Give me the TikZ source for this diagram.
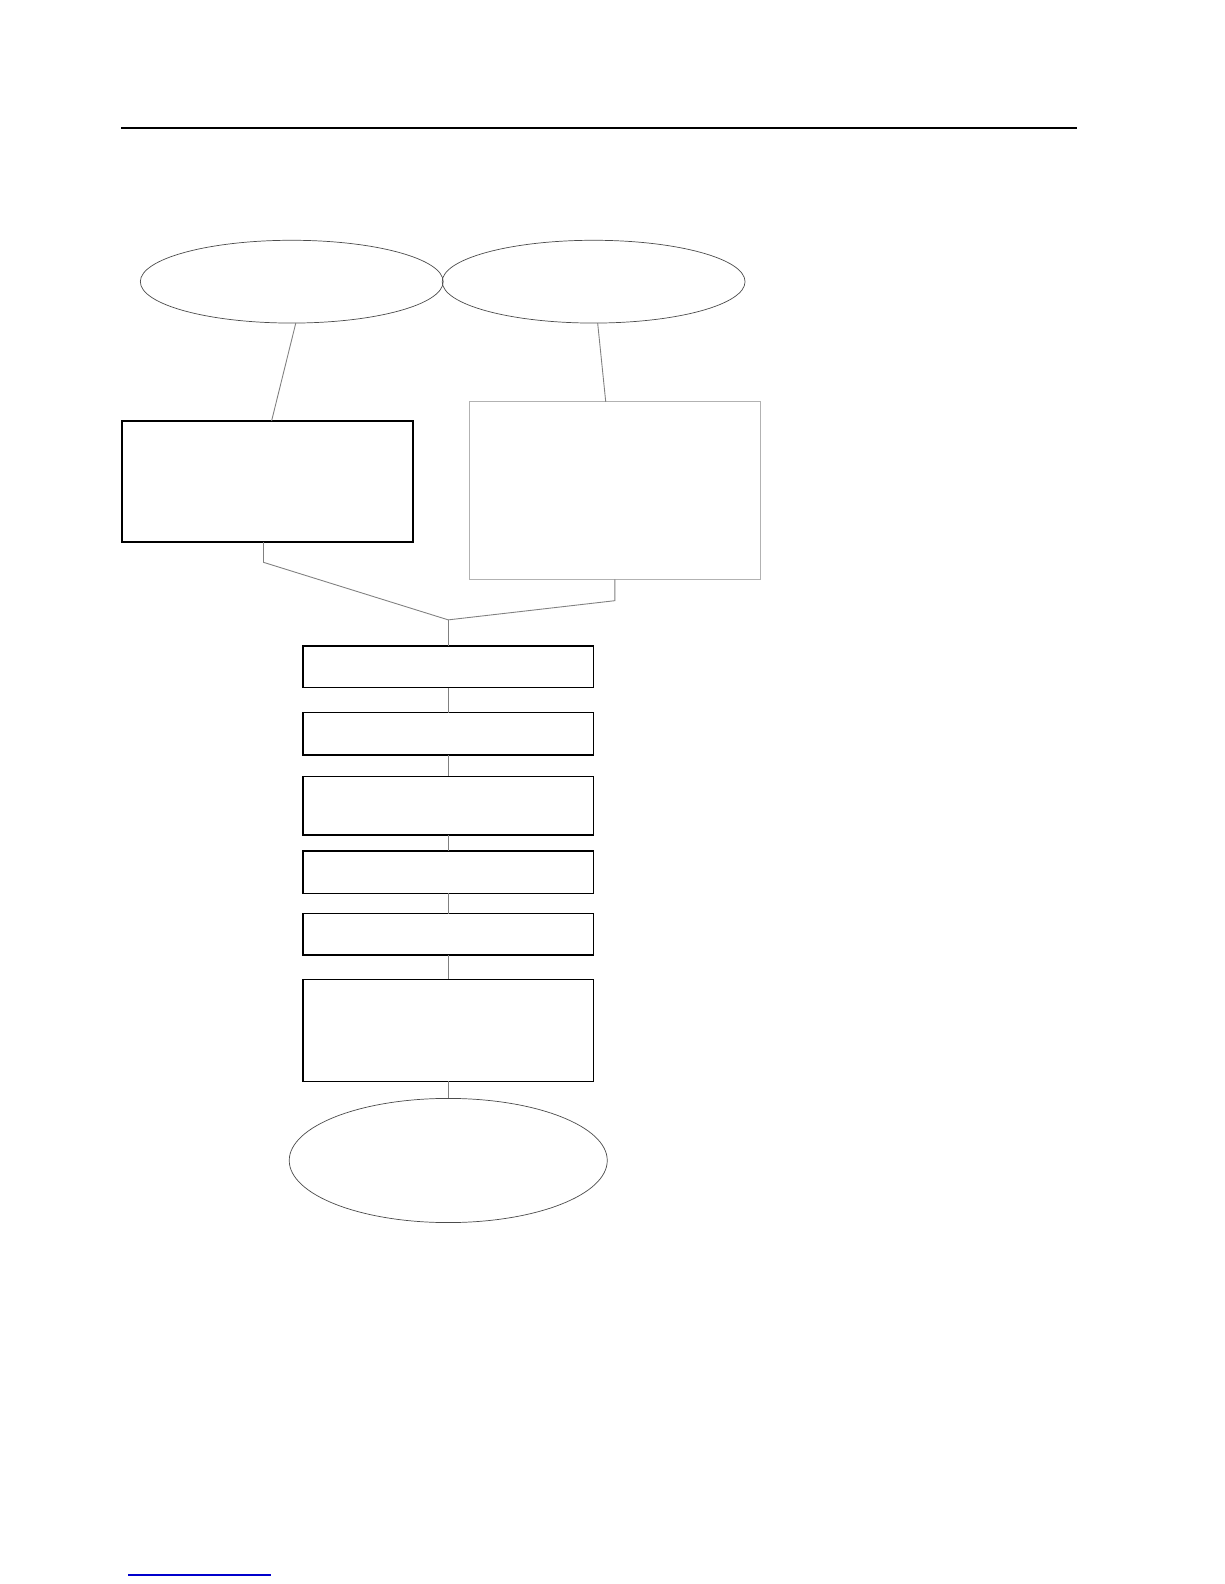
\documentclass[tikz,border=0pt]{standalone}
\usepackage{tikz}
\usetikzlibrary{shapes.geometric, positioning, calc}

\begin{document}
\begin{tikzpicture}[
    node distance=0.4cm,
    box/.style={rectangle, draw, line width=0.75pt, minimum width=5.76cm, minimum height=0.82cm, inner sep=0pt, outer sep=0pt},
    greybox/.style={rectangle, draw=gray!60, line width=0.5pt, minimum width=5.76cm, inner sep=0pt, outer sep=0pt},
    oval/.style={ellipse, draw=gray!60!black, line width=0.4pt, minimum width=6cm, minimum height=1.64cm, inner sep=0pt, outer sep=0pt},
    link/.style={draw=gray, line width=0.5pt}
]
\useasboundingbox (0,0) rectangle (24.25,-31.38);

% rule at the top and the short blue one at the foot
\draw[line width=1.1pt] (2.4,-2.54) -- (21.34,-2.54);
\draw[blue!80!black, line width=0.9pt] (2.54,-31.2) -- (5.36,-31.2);

% two sources
\node[oval] (lell) at (5.78,-5.58) {};
\node[oval] (rell) at (11.76,-5.58) {};
\node[box, minimum height=2.4cm] (lrect) at (5.30,-9.54) {};
\node[greybox, minimum height=3.52cm] (rrect) at (12.18,-9.72) {};
\coordinate (join) at (8.88,-12.28);

% main chain
\node[box] (b1) at (8.88,-13.21) {};
\node[box, minimum height=0.84cm, below=0.5cm of b1] (b2) {};
\node[box, minimum height=1.16cm, below=0.42cm of b2] (b3) {};
\node[box, minimum height=0.84cm, below=0.32cm of b3] (b4) {};
\node[box, below=0.4cm of b4] (b5) {};
\node[box, minimum height=2.02cm, below=0.48cm of b5] (b6) {};
\node[oval, minimum width=6.3cm, minimum height=2.46cm, below=0.34cm of b6] (end) {};

\draw[link] ([xshift=0.08cm]lell.south) -- ([xshift=0.08cm]lrect.north);
\draw[link] ([xshift=0.08cm]rell.south) -- ([xshift=-0.18cm]rrect.north);
\draw[link] ([xshift=-0.08cm]lrect.south) -- ++(0,-0.4) -- (join);
\draw[link] (rrect.south) -- ++(0,-0.42) -- (join);
\draw[link] (join) -- (b1);
\foreach \a/\b in {b1/b2, b2/b3, b3/b4, b4/b5, b5/b6, b6/end}
    \draw[link] (\a) -- (\b);

\end{tikzpicture}
\end{document}
